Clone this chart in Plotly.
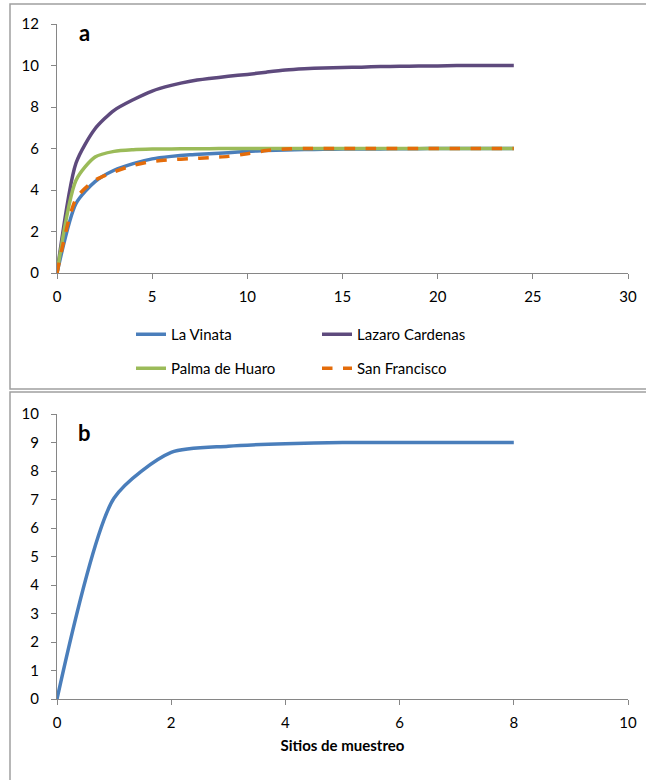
import plotly.graph_objects as go

# ---- data ----
x_a = list(range(0, 25))
la_vinata = [0, 3.35, 4.4, 4.95, 5.27, 5.5, 5.62, 5.7, 5.75, 5.8, 5.86, 5.9, 5.93, 5.95, 5.96, 5.97, 5.98, 5.98, 5.99, 5.99, 6, 6, 6, 6, 6]
lazaro = [0, 5.3, 6.95, 7.84, 8.35, 8.77, 9.04, 9.24, 9.37, 9.48, 9.57, 9.68, 9.78, 9.84, 9.88, 9.9, 9.92, 9.95, 9.96, 9.97, 9.98, 10, 10, 10, 10]
palma = [0, 4.47, 5.59, 5.86, 5.94, 5.97, 5.98, 5.99, 5.99, 6, 6, 6, 6, 6, 6, 6, 6, 6, 6, 6, 6, 6, 6, 6, 6]
san_fco = [0, 3.58, 4.47, 4.87, 5.19, 5.38, 5.46, 5.51, 5.56, 5.62, 5.75, 5.9, 5.97, 6, 6, 6, 6, 6, 6, 6, 6, 6, 6, 6, 6]

x_b = [0, 1, 2, 3, 4, 5, 6, 7, 8]
total_b = [0, 7.05, 8.65, 8.87, 8.96, 9, 9, 9, 9]

x_ticks_a = [0, 5, 10, 15, 20, 25, 30]
y_ticks_a = [0, 2, 4, 6, 8, 10, 12]
x_ticks_b = [0, 2, 4, 6, 8, 10]
y_ticks_b = list(range(0, 11))

W, H = 646, 780
def px(v): return v / W
def py(v): return 1 - v / H

FONT = "Lato"
AX = "#868686"
SMOOTH = 0.7
fig = go.Figure()

series = [
    ("La Vinata", la_vinata, "#4A7EBB", "solid", "legend"),
    ("Lazaro Cardenas", lazaro, "#5E4A7D", "solid", "legend"),
    ("Palma de Huaro", palma, "#9BBB59", "solid", "legend2"),
    ("San Francisco", san_fco, "#E46C0A", "dash", "legend2"),
]
for name, ys, col, dash, lg in series:
    fig.add_trace(go.Scatter(x=x_a, y=ys, name=name, mode="lines",
                             line=dict(color=col, width=3.5, dash=dash, shape="spline", smoothing=SMOOTH),
                             xaxis="x", yaxis="y", legend=lg))

fig.add_trace(go.Scatter(x=x_b, y=total_b, mode="lines", showlegend=False,
                         line=dict(color="#4A7EBB", width=3.5, shape="spline", smoothing=SMOOTH),
                         xaxis="x2", yaxis="y2"))

axis_common = dict(showgrid=False, zeroline=False, showline=True, linecolor=AX, linewidth=1,
                   ticks="outside", tickcolor=AX, ticklen=5, automargin=False,
                   tickfont=dict(family=FONT, size=15, color="#000"))

fig.update_layout(
    width=W, height=H, margin=dict(l=0, r=0, t=0, b=0, autoexpand=False),
    paper_bgcolor="white", plot_bgcolor="white",
    font=dict(family=FONT, color="#000"),
    xaxis=dict(domain=[px(57), px(628)], range=[0, 30], tickvals=x_ticks_a, anchor="y",
               ticklabelstandoff=5, **axis_common),
    yaxis=dict(domain=[py(273), py(24)], range=[0, 12], tickvals=y_ticks_a, anchor="x",
               ticklabelstandoff=9, **axis_common),
    xaxis2=dict(domain=[px(57), px(628)], range=[0, 10], tickvals=x_ticks_b, anchor="y2",
                ticklabelstandoff=5,
                title=dict(text="<b>Sitios de muestreo</b>", font=dict(family=FONT, size=15), standoff=10),
                **axis_common),
    yaxis2=dict(domain=[py(699), py(414)], range=[0, 10], tickvals=y_ticks_b, anchor="x2",
                ticklabelstandoff=9, **axis_common),
    legend=dict(orientation="h", x=px(131), y=py(318), xanchor="left", yanchor="top",
                entrywidth=141, entrywidthmode="pixels", font=dict(family=FONT, size=15),
                bgcolor="rgba(0,0,0,0)", tracegroupgap=0),
    legend2=dict(orientation="h", x=px(131), y=py(352), xanchor="left", yanchor="top",
                 entrywidth=141, entrywidthmode="pixels", font=dict(family=FONT, size=15),
                 bgcolor="rgba(0,0,0,0)", tracegroupgap=0),
    shapes=[
        dict(type="rect", xref="paper", yref="paper", x0=px(10), x1=1.05, y0=py(389), y1=py(4),
             line=dict(color="#A0A0A0", width=1.5), fillcolor="rgba(0,0,0,0)", layer="below"),
        dict(type="rect", xref="paper", yref="paper", x0=px(10), x1=1.05, y0=-0.05, y1=py(392),
             line=dict(color="#A0A0A0", width=1.5), fillcolor="rgba(0,0,0,0)", layer="below"),
    ],
    annotations=[
        dict(text="<b>a</b>", x=px(84), y=py(33), xref="paper", yref="paper", showarrow=False,
             xanchor="center", yanchor="middle", font=dict(family=FONT, size=22)),
        dict(text="<b>b</b>", x=px(84), y=py(432), xref="paper", yref="paper", showarrow=False,
             xanchor="center", yanchor="middle", font=dict(family=FONT, size=22)),
    ],
)

fig.write_html("out.html")
